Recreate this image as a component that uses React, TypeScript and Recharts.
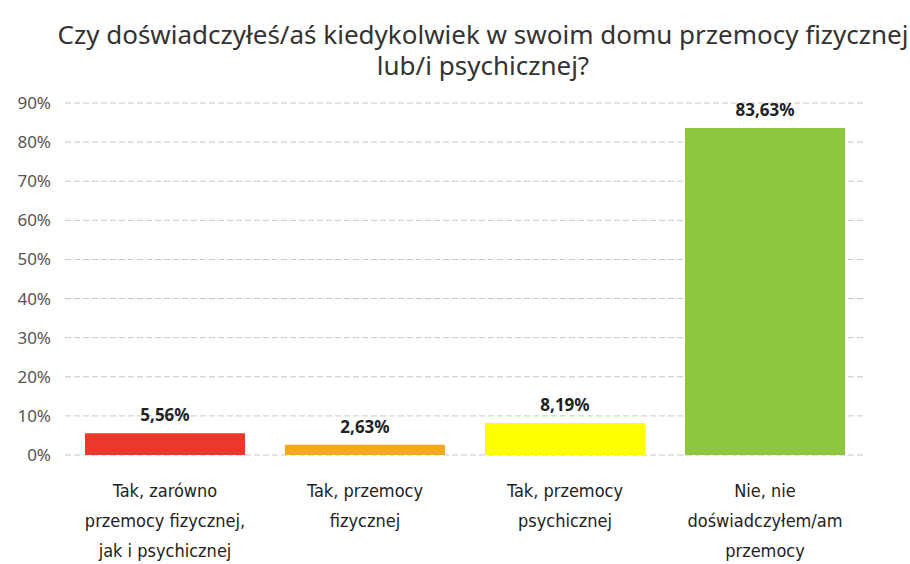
import { BarChart, Bar, XAxis, YAxis, CartesianGrid, LabelList, Cell } from "recharts";

const categories: string[][] = [
  ["Tak, zarówno", "przemocy fizycznej,", "jak i psychicznej"],
  ["Tak, przemocy", "fizycznej"],
  ["Tak, przemocy", "psychicznej"],
  ["Nie, nie", "doświadczyłem/am", "przemocy"],
];
const values = [5.56, 2.63, 8.19, 83.63];
const barColors = ["#e8392a", "#f5a81c", "#ffff00", "#8dc63f"];
const yTicks = [0, 10, 20, 30, 40, 50, 60, 70, 80, 90];

const FONT = "'Noto Sans', sans-serif";
const NARROW = "'DejaVu Sans Condensed', 'Noto Sans', sans-serif";

const data = values.map((v, i) => ({ key: String(i), value: v }));

function CategoryTick(props: any) {
  const { x, y, payload } = props;
  const lines = categories[Number(payload.value)] || [];
  return (
    <g transform={`translate(${x},${y})`}>
      {lines.map((line, i) => (
        <text
          key={i}
          x={0}
          y={i * 30}
          dy={34}
          textAnchor="middle"
          fill="#222"
          fontSize={18}
          fontFamily={NARROW}
        >
          {line}
        </text>
      ))}
    </g>
  );
}

export default function App() {
  return (
    <div style={{ position: "absolute", left: 0, top: 0, width: 910, height: 564, background: "#fff" }}>
      <div
        style={{
          position: "absolute",
          left: 28,
          top: 19,
          width: 910,
          textAlign: "center",
          fontFamily: FONT,
          fontSize: 26,
          lineHeight: "31px",
          color: "#333",
        }}
      >
        Czy doświadczyłeś/aś kiedykolwiek w swoim domu przemocy fizycznej
        <br />
        lub/i psychicznej?
      </div>
      <BarChart
        width={910}
        height={564}
        data={data}
        margin={{ top: 103, right: 45, bottom: 0, left: 0 }}
        barCategoryGap="10%"
      >
        <CartesianGrid vertical={false} stroke="#c8c8c8" strokeDasharray="6 3" />
        <XAxis
          dataKey="key"
          axisLine={false}
          tickLine={false}
          tick={<CategoryTick />}
          height={109}
          interval={0}
        />
        <YAxis
          domain={[0, 90]}
          ticks={yTicks}
          axisLine={false}
          tickLine={false}
          width={65}
          tickFormatter={(v: number) => `${v}%`}
          tick={{ fill: "#555", fontSize: 17, fontFamily: FONT }}
          tickMargin={8}
        />
        <Bar dataKey="value" isAnimationActive={false}>
          {data.map((d, i) => (
            <Cell key={d.key} fill={barColors[i]} />
          ))}
          <LabelList
            dataKey="value"
            position="top"
            offset={12}
            formatter={(v: number) => `${v.toFixed(2).replace(".", ",")}%`}
            style={{ fill: "#222", fontSize: 17, fontWeight: "bold", fontFamily: FONT }}
          />
        </Bar>
      </BarChart>
    </div>
  );
}
